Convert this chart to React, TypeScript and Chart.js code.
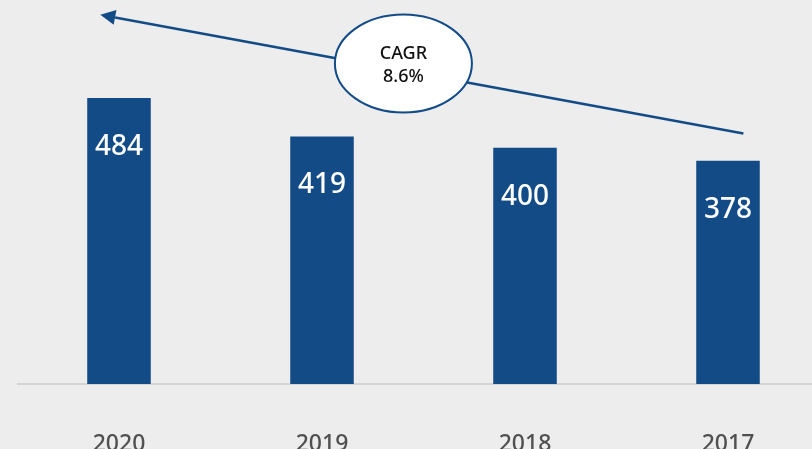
import React, { useEffect, useRef } from "react";
import { Chart, registerables } from "chart.js";

Chart.register(...registerables);

const categories = ["2020", "2019", "2018", "2017"];
const revenue = [484, 419, 400, 378];
const cagrLines = ["CAGR", "8.6%"];

const BG = "#ededed";
const BLUE = "#134b87";
const FONT = "'Noto Sans', 'DejaVu Sans', sans-serif";

// annotation anchors in data space (category index, value)
const ARROW_FROM = { x: 3.076, y: 424 };
const ARROW_TO = { x: -0.092, y: 625 };
const BUBBLE_AT = { x: 1.401, y: 542.5 };

const overlayPlugin = {
  id: "overlay",
  beforeDraw(chart: any) {
    const { ctx, width, height } = chart;
    ctx.save();
    ctx.fillStyle = BG;
    ctx.fillRect(0, 0, width, height);
    ctx.restore();
  },
  afterDatasetsDraw(chart: any) {
    const { ctx } = chart;
    const xs = chart.scales.x;
    const ys = chart.scales.y;
    const meta = chart.getDatasetMeta(0);
    ctx.save();
    // value labels
    ctx.fillStyle = "#ffffff";
    ctx.font = `500 28px ${FONT}`;
    ctx.textAlign = "center";
    ctx.textBaseline = "middle";
    meta.data.forEach((bar: any, i: number) => {
      ctx.fillText(String(revenue[i]), bar.x, bar.y + 49);
    });

    // arrow
    const x1 = xs.getPixelForValue(ARROW_FROM.x);
    const y1 = ys.getPixelForValue(ARROW_FROM.y);
    const x2 = xs.getPixelForValue(ARROW_TO.x);
    const y2 = ys.getPixelForValue(ARROW_TO.y);
    const ang = Math.atan2(y2 - y1, x2 - x1);
    const headLen = 15;
    const headHalf = 7.5;
    const bx = x2 - headLen * Math.cos(ang);
    const by = y2 - headLen * Math.sin(ang);
    ctx.strokeStyle = BLUE;
    ctx.lineWidth = 2.5;
    ctx.beginPath();
    ctx.moveTo(x1, y1);
    ctx.lineTo(bx, by);
    ctx.stroke();
    ctx.fillStyle = BLUE;
    ctx.beginPath();
    ctx.moveTo(x2, y2);
    ctx.lineTo(bx + headHalf * Math.sin(ang), by - headHalf * Math.cos(ang));
    ctx.lineTo(bx - headHalf * Math.sin(ang), by + headHalf * Math.cos(ang));
    ctx.closePath();
    ctx.fill();

    // bubble
    const cx = xs.getPixelForValue(BUBBLE_AT.x);
    const cy = ys.getPixelForValue(BUBBLE_AT.y);
    ctx.beginPath();
    ctx.ellipse(cx, cy, 68.5, 49, 0, 0, Math.PI * 2);
    ctx.fillStyle = "#ffffff";
    ctx.fill();
    ctx.lineWidth = 2;
    ctx.strokeStyle = BLUE;
    ctx.stroke();
    ctx.fillStyle = "#111111";
    ctx.font = `500 18px ${FONT}`;
    ctx.fillText(cagrLines[0], cx, cy - 10);
    ctx.fillText(cagrLines[1], cx, cy + 13);
    ctx.restore();
  },
};

export default function App() {
  const ref = useRef<HTMLCanvasElement | null>(null);
  useEffect(() => {
    if (!ref.current) return;
    const chart = new Chart(ref.current, {
      type: "bar",
      data: {
        labels: categories,
        datasets: [
          {
            data: revenue,
            backgroundColor: BLUE,
            borderWidth: 0,
            barPercentage: 0.313,
            categoryPercentage: 1,
          },
        ],
      },
      options: {
        animation: false,
        responsive: true,
        maintainAspectRatio: false,
        layout: { padding: { left: 17.5, right: 0.5, top: 0, bottom: 0 } },
        plugins: {
          legend: { display: false },
          tooltip: { enabled: false },
          title: { display: false },
        },
        scales: {
          y: { display: false, min: 0, max: 650 },
          x: {
            grid: { display: false, drawTicks: false },
            border: { display: true, color: "#d5d5d5", width: 2 },
            ticks: {
              color: "#505050",
              font: { family: FONT, size: 23, weight: "500" },
              padding: 46.5,
              maxRotation: 0,
            },
            afterFit: (scale: any) => {
              scale.height = 65;
            },
          },
        },
      },
      plugins: [overlayPlugin],
    });
    return () => chart.destroy();
  }, []);
  return (
    <div
      style={{
        position: "fixed",
        left: 0,
        top: 0,
        width: 812,
        height: 449,
        overflow: "hidden",
        background: BG,
      }}
    >
      <div style={{ width: 830, height: 449 }}>
        <canvas ref={ref} />
      </div>
    </div>
  );
}
